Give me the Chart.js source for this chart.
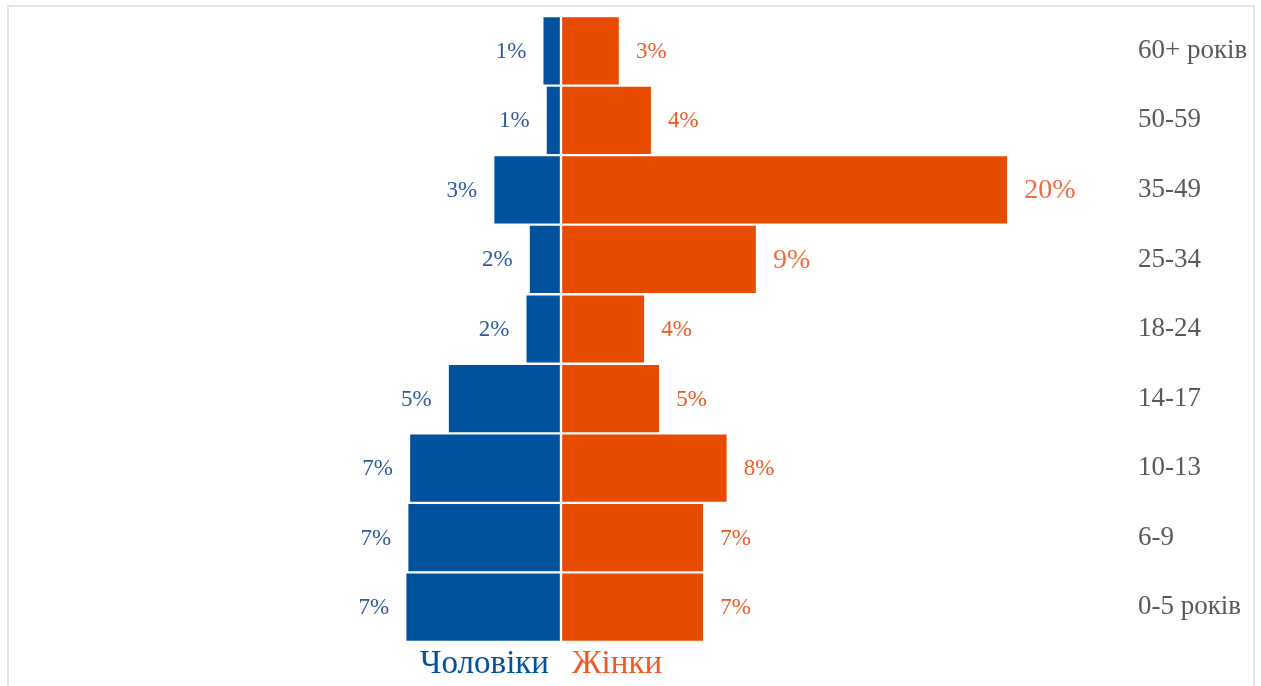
<!DOCTYPE html>
<html>
<head>
<meta charset="utf-8">
<title>Віковий розподіл</title>
<script src="https://cdn.jsdelivr.net/npm/chart.js@4.4.1/dist/chart.umd.min.js"></script>
<style>
  html, body { margin: 0; padding: 0; background: #fff; overflow: hidden; }
  #frame { position: absolute; left: 7px; top: 5px; width: 1244px; height: 720px; border: 2px solid #e4e4e4; }
  #wrap { position: absolute; left: 0; top: 0; width: 1261px; height: 686px; }
</style>
</head>
<body>
<div id="frame"></div>
<div id="wrap"><canvas id="pyramid"></canvas></div>
<script>
// Age groups, top to bottom
const ageGroups = ["60+ років", "50-59", "35-49", "25-34", "18-24", "14-17", "10-13", "6-9", "0-5 років"];

// Share of each group, % (bar lengths)
const maleValues = [0.85, 0.7, 3.08, 1.47, 1.62, 5.15, 6.91, 6.99, 7.08];
const femaleValues = [2.68, 4.14, 20.33, 8.91, 3.83, 4.51, 7.58, 6.51, 6.51];

// Printed labels next to the bars
const maleLabels = ["1%", "1%", "3%", "2%", "2%", "5%", "7%", "7%", "7%"];
const femaleLabels = ["3%", "4%", "20%", "9%", "4%", "5%", "8%", "7%", "7%"];

const seriesNames = ["Чоловіки", "Жінки"];

const FONT = "'Liberation Serif', 'DejaVu Serif', serif";
const blueBar = "#00519e";
const orangeBar = "#e64b00";
const blueText = "#2e5c9e";
const orangeText = "#ee5a24";

// the two biggest female values get a larger label
const bigFemale = femaleValues.slice().sort((a, b) => b - a).slice(0, 2);

// values printed beside every bar
const barLabels = {
  id: "barLabels",
  afterDatasetsDraw(chart) {
    const ctx = chart.ctx;
    ctx.save();
    ctx.textBaseline = "middle";

    chart.getDatasetMeta(0).data.forEach((bar, i) => {
      ctx.font = "23px " + FONT;
      ctx.fillStyle = blueText;
      ctx.textAlign = "right";
      ctx.fillText(maleLabels[i], bar.x - 16, bar.y + 1);
    });

    chart.getDatasetMeta(1).data.forEach((bar, i) => {
      const big = bigFemale.includes(femaleValues[i]);
      ctx.font = (big ? "28px " : "23px ") + FONT;
      ctx.fillStyle = big ? "#f26a3f" : orangeText;
      ctx.textAlign = "left";
      ctx.fillText(femaleLabels[i], bar.x + 16, bar.y + 1);
    });
    ctx.restore();
  },
};

// series names under the bars, split at zero
const sideLegend = {
  id: "sideLegend",
  afterDraw(chart) {
    const ctx = chart.ctx;
    const x0 = chart.scales.x.getPixelForValue(0);
    const y = chart.chartArea.bottom + 31;
    ctx.save();
    ctx.font = "33px " + FONT;
    ctx.textBaseline = "alphabetic";
    ctx.fillStyle = blueBar;
    ctx.textAlign = "right";
    ctx.fillText(seriesNames[0], x0 - 12, y);
    ctx.fillStyle = orangeText;
    ctx.textAlign = "left";
    ctx.fillText(seriesNames[1], x0 + 11, y);
    ctx.restore();
  },
};

new Chart(document.getElementById("pyramid"), {
  type: "bar",
  data: {
    labels: ageGroups,
    datasets: [
      {
        label: seriesNames[0],
        data: maleValues.map((v) => -v),
        backgroundColor: blueBar,
      },
      {
        label: seriesNames[1],
        data: femaleValues,
        backgroundColor: orangeBar,
      },
    ],
  },
  options: {
    indexAxis: "y",
    responsive: true,
    maintainAspectRatio: false,
    animation: false,
    datasets: {
      bar: {
        barPercentage: 1,
        categoryPercentage: 1,
        borderWidth: 1.5,
        borderColor: "#ffffff",
        borderSkipped: false,
      },
    },
    layout: {
      padding: { left: 11, right: 0, top: 16, bottom: 44 },
    },
    plugins: {
      legend: { display: false },
      tooltip: { enabled: false },
    },
    scales: {
      x: {
        display: false,
        stacked: true,
        min: -25,
        max: 25,
      },
      y: {
        position: "right",
        stacked: true,
        grid: { display: false, drawTicks: false },
        border: { display: false },
        ticks: {
          color: "#595959",
          padding: 27,
          font: { family: FONT, size: 27 },
        },
        afterFit(scale) {
          scale.width = 150;
          scale.paddingTop = 0;
          scale.paddingBottom = 0;
        },
      },
    },
  },
  plugins: [barLabels, sideLegend],
});
</script>
</body>
</html>
